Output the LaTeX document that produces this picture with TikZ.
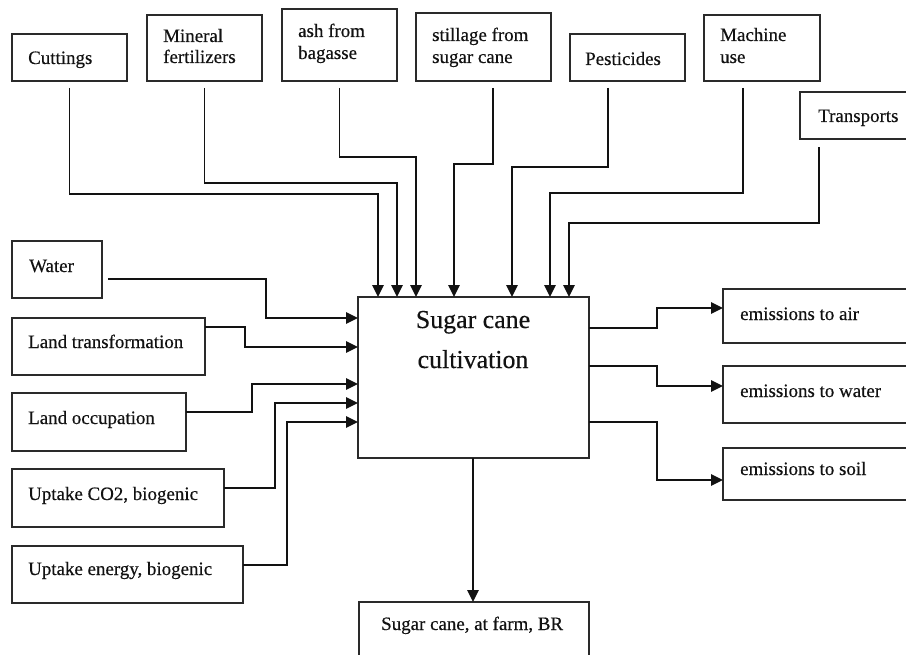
\documentclass[tikz,border=0pt]{standalone}
\usepackage{fontspec}
\setmainfont{Liberation Serif}[FakeBold=0.4]
\usetikzlibrary{arrows.meta,calc}
\definecolor{ink}{HTML}{121212}
\definecolor{frame}{HTML}{2A2A2A}
\tikzset{
  box/.style 2 args={draw=frame, line width=1.1bp, inner sep=0pt, outer sep=0pt,
    anchor=north west, minimum width=#1bp, minimum height=#2bp},
  lbl/.style={inner sep=0pt, anchor=base west, text=ink, font=\fontsize{19}{22}\selectfont},
  biglbl/.style={inner sep=0pt, anchor=base, text=ink, font=\fontsize{26}{30}\selectfont},
  flow/.style={draw=ink, line width=1.6bp, line cap=butt, line join=miter,
    -{Triangle[length=12bp,width=11.5bp]}}
}
\begin{document}
\begin{tikzpicture}[x=1bp,y=-1bp]
\useasboundingbox (0,0) rectangle (906,655);
\fill[white] (0,0) rectangle (906,655);
\clip (0,0) rectangle (906,655);

% central process
\node[box={231}{161}] (cult) at (358,297) {};
\node[biglbl] (cultA) at (473,328) {Sugar cane};
\node[biglbl] (cultB) at (473,368) {cultivation};

% inputs from above
\node[box={115}{47}] (cut) at (12,34) {};
\node[lbl] (cutT) at (28,64) {Cuttings};
\node[box={115}{66}] (min) at (147,15) {};
\node[lbl] (minA) at (163,42) {Mineral};
\node[lbl] (minB) at (163,63) {fertilizers};
\node[box={115}{72}] (ash) at (282,9) {};
\node[lbl] (ashA) at (298,37) {ash from};
\node[lbl] (ashB) at (298,59) {bagasse};
\node[box={135}{68}] (still) at (416,13) {};
\node[lbl] (stillA) at (432,41) {stillage from};
\node[lbl] (stillB) at (432,63) {sugar cane};
\node[box={115}{47}] (pest) at (570,34) {};
\node[lbl] (pestT) at (585,65) {Pesticides};
\node[box={116}{66}] (mach) at (704,15) {};
\node[lbl] (machA) at (720,41) {Machine};
\node[lbl] (machB) at (720,63) {use};
\node[box={130}{47}] (trans) at (800,92) {};
\node[lbl] (transT) at (818,122) {Transports};

% inputs from the left
\node[box={90}{57}] (water) at (12,241) {};
\node[lbl] (waterT) at (29,272) {Water};
\node[box={193}{57}] (ltr) at (12,318) {};
\node[lbl] (ltrT) at (28,348) {Land transformation};
\node[box={174}{58}] (locc) at (12,393) {};
\node[lbl] (loccT) at (28,424) {Land occupation};
\node[box={212}{58}] (co2) at (12,469) {};
\node[lbl] (co2T) at (28,500) {Uptake CO2, biogenic};
\node[box={231}{57}] (energy) at (12,546) {};
\node[lbl] (energyT) at (28,575) {Uptake energy, biogenic};

% emissions
\node[box={210}{54}] (air) at (723,289) {};
\node[lbl] (airT) at (740,320) {emissions to air};
\node[box={210}{57}] (wat) at (723,366) {};
\node[lbl] (watT) at (740,397) {emissions to water};
\node[box={210}{52}] (soil) at (723,448) {};
\node[lbl] (soilT) at (740,475) {emissions to soil};

% product
\node[box={230}{80}] (farm) at (359,602) {};
\node[lbl] (farmT) at (381,630) {Sugar cane, at farm, BR};

% connectors from the top row
\draw[flow] ($(cut.south)+(0,7)$) |- ($(cult.north west)+(20,-103)$) -- ($(cult.north west)+(20,0)$);
\draw[flow] ($(min.south)+(0,7)$) |- ($(cult.north west)+(39,-114)$) -- ($(cult.north west)+(39,0)$);
\draw[flow] ($(ash.south)+(0,7)$) |- ($(cult.north west)+(58,-140)$) -- ($(cult.north west)+(58,0)$);
\draw[flow] ($(still.south west)+(77,7)$) |- ($(cult.north west)+(96,-133)$) -- ($(cult.north west)+(96,0)$);
\draw[flow] ($(pest.south west)+(38,7)$) |- ($(cult.north west)+(154,-130)$) -- ($(cult.north west)+(154,0)$);
\draw[flow] ($(mach.south west)+(39,7)$) |- ($(cult.north west)+(192,-104)$) -- ($(cult.north west)+(192,0)$);
\draw[flow] ($(trans.south west)+(19,8)$) |- ($(cult.north west)+(211,-74)$) -- ($(cult.north west)+(211,0)$);

% connectors from the left column
\draw[flow] ($(water.east)+(6,9.5)$) -| ($(cult.north west)+(-92,21)$) -- ($(cult.north west)+(0,21)$);
\draw[flow] ($(ltr.east)+(0,-19.5)$) -| ($(cult.north west)+(-113,50)$) -- ($(cult.north west)+(0,50)$);
\draw[flow] ($(locc.east)+(0,-10)$) -| ($(cult.north west)+(-106,87)$) -- ($(cult.north west)+(0,87)$);
\draw[flow] ($(co2.east)+(0,-10)$) -| ($(cult.north west)+(-83,106)$) -- ($(cult.north west)+(0,106)$);
\draw[flow] ($(energy.east)+(0,-9.5)$) -| ($(cult.north west)+(-71,125)$) -- ($(cult.north west)+(0,125)$);

% connectors to the emissions
\draw[flow] ($(cult.north east)+(0,31)$) -| ($(air.west)+(-66,-8)$) -- ($(air.west)+(0,-8)$);
\draw[flow] ($(cult.north east)+(0,69)$) -| ($(wat.west)+(-66,-8.5)$) -- ($(wat.west)+(0,-8.5)$);
\draw[flow] ($(cult.north east)+(0,125)$) -| ($(soil.west)+(-66,6)$) -- ($(soil.west)+(0,6)$);

% product output
\draw[flow] ($(cult.south)+(-0.5,0)$) -- ($(cult.south |- farm.north)+(-0.5,0)$);
\end{tikzpicture}
\end{document}
